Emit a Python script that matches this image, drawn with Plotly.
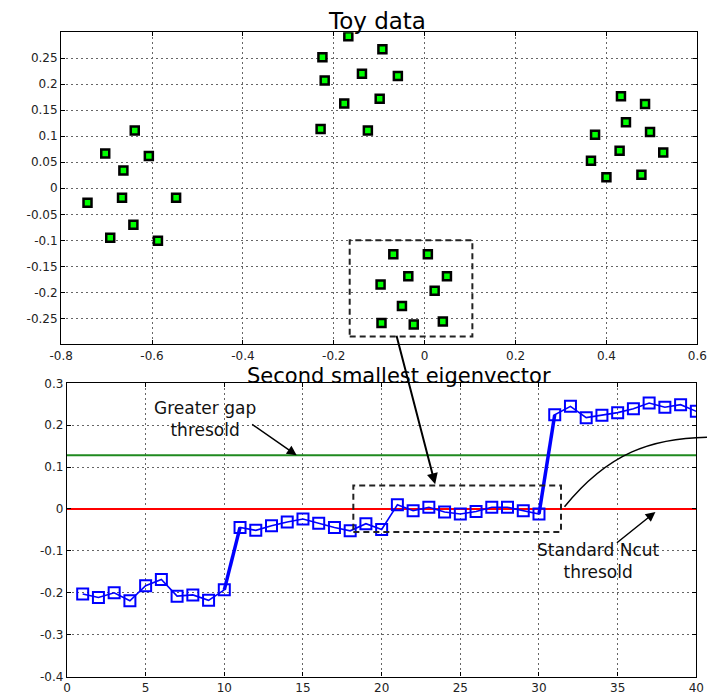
import plotly.graph_objects as go

# ---------------- data ----------------
cluster_left_x = [-0.638, -0.703, -0.663, -0.607, -0.742, -0.666, -0.547, -0.641, -0.692, -0.587]
cluster_left_y = [0.111, 0.067, 0.034, 0.062, -0.028, -0.018, -0.018, -0.070, -0.095, -0.101]
cluster_top_x = [-0.168, -0.225, -0.220, -0.177, -0.229, -0.093, -0.138, -0.059, -0.099, -0.125]
cluster_top_y = [0.292, 0.252, 0.207, 0.163, 0.114, 0.267, 0.220, 0.216, 0.172, 0.111]
cluster_right_x = [0.432, 0.485, 0.443, 0.375, 0.496, 0.429, 0.525, 0.366, 0.400, 0.477]
cluster_right_y = [0.177, 0.162, 0.127, 0.103, 0.108, 0.072, 0.069, 0.053, 0.021, 0.026]
cluster_bottom_x = [-0.069, 0.007, -0.036, 0.049, -0.097, 0.022, -0.050, -0.095, -0.024, 0.040]
cluster_bottom_y = [-0.127, -0.127, -0.169, -0.169, -0.185, -0.197, -0.226, -0.259, -0.262, -0.256]

eig_index = list(range(1, 41))
eig_values = [-0.203, -0.211, -0.200, -0.219, -0.183, -0.168, -0.208, -0.205, -0.218, -0.193,
              -0.044, -0.051, -0.040, -0.031, -0.024, -0.034, -0.044, -0.052, -0.035, -0.049,
              0.010, -0.004, 0.004, -0.007, -0.012, -0.006, 0.004, 0.004, -0.004, -0.012,
              0.225, 0.245, 0.218, 0.224, 0.230, 0.239, 0.253, 0.243, 0.249, 0.233]

greater_gap_threshold = 0.128
ncut_threshold = 0.0

top_x_ticks = [-0.8, -0.6, -0.4, -0.2, 0, 0.2, 0.4, 0.6]
top_x_labels = ["-0.8", "-0.6", "-0.4", "-0.2", "0", "0.2", "0.4", "0.6"]
top_y_ticks = [-0.25, -0.2, -0.15, -0.1, -0.05, 0, 0.05, 0.1, 0.15, 0.2, 0.25]
top_y_labels = ["-0.25", "-0.2", "-0.15", "-0.1", "-0.05", "0", "0.05", "0.1", "0.15", "0.2", "0.25"]
bot_x_ticks = [0, 5, 10, 15, 20, 25, 30, 35, 40]
bot_x_labels = ["0", "5", "10", "15", "20", "25", "30", "35", "40"]
bot_y_ticks = [-0.4, -0.3, -0.2, -0.1, 0, 0.1, 0.2, 0.3]
bot_y_labels = ["-0.4", "-0.3", "-0.2", "-0.1", "0", "0.1", "0.2", "0.3"]

# highlighted boxes (x0, x1, y0, y1)
top_box = (-0.165, 0.105, -0.285, -0.100)
bot_box = (18.2, 31.4, -0.055, 0.056)

W, H = 717, 698
FONT = "DejaVu Sans"

fig = go.Figure()

all_x = cluster_left_x + cluster_top_x + cluster_right_x + cluster_bottom_x
all_y = cluster_left_y + cluster_top_y + cluster_right_y + cluster_bottom_y
fig.add_trace(go.Scatter(
    x=all_x, y=all_y, mode="markers", xaxis="x", yaxis="y",
    marker=dict(symbol="square", size=8, color="#00ff00",
                line=dict(color="black", width=2.5)),
    showlegend=False))

# threshold lines
fig.add_trace(go.Scatter(x=[0, 40], y=[greater_gap_threshold] * 2, mode="lines",
                         xaxis="x2", yaxis="y2", line=dict(color="#1f8a1f", width=2),
                         showlegend=False))
fig.add_trace(go.Scatter(x=[0, 40], y=[ncut_threshold] * 2, mode="lines",
                         xaxis="x2", yaxis="y2", line=dict(color="#ff0000", width=2),
                         showlegend=False))

# eigenvector line
fig.add_trace(go.Scatter(
    x=eig_index, y=eig_values, mode="lines+markers", xaxis="x2", yaxis="y2",
    line=dict(color="#0000ff", width=1.6),
    marker=dict(symbol="square-open", size=11, color="#0000ff",
                line=dict(color="#0000ff", width=2)),
    showlegend=False))
# steep segments look thicker in the reference
for i in range(len(eig_values) - 1):
    if abs(eig_values[i + 1] - eig_values[i]) > 0.1:
        fig.add_trace(go.Scatter(
            x=eig_index[i:i + 2], y=eig_values[i:i + 2], mode="lines",
            xaxis="x2", yaxis="y2", line=dict(color="#0000ff", width=3.5),
            showlegend=False))

axis_common = dict(
    showgrid=True, gridcolor="#666666", griddash="2px,3px", gridwidth=1,
    zeroline=False, showline=True, linecolor="black", linewidth=1.2,
    mirror="ticks", ticks="inside", ticklen=4, tickcolor="black",
    tickfont=dict(family=FONT, size=12, color="#222222"),
)

fig.update_layout(
    width=W, height=H,
    margin=dict(l=0, r=0, t=0, b=0),
    paper_bgcolor="white", plot_bgcolor="white",
    xaxis=dict(domain=[50.7 / W, 707 / W], anchor="y", range=[-0.8, 0.6],
               tickvals=top_x_ticks, ticktext=top_x_labels, **axis_common),
    yaxis=dict(domain=[1 - 344.3 / H, 1 - 25.7 / H], anchor="x", range=[-0.3, 0.3],
               tickvals=top_y_ticks, ticktext=top_y_labels, **axis_common),
    xaxis2=dict(domain=[56.7 / W, 706 / W], anchor="y2", range=[0, 40],
                tickvals=bot_x_ticks, ticktext=bot_x_labels, **axis_common),
    yaxis2=dict(domain=[1 - 683.3 / H, 1 - 384 / H], anchor="x2", range=[-0.4, 0.3],
                tickvals=bot_y_ticks, ticktext=bot_y_labels, **axis_common),
)

# dashed boxes
fig.add_shape(type="rect", xref="x", yref="y", x0=top_box[0], x1=top_box[1],
              y0=top_box[2], y1=top_box[3],
              line=dict(color="#222222", width=2, dash="6px,4px"))
fig.add_shape(type="rect", xref="x2", yref="y2", x0=bot_box[0], x1=bot_box[1],
              y0=bot_box[2], y1=bot_box[3],
              line=dict(color="#222222", width=2, dash="6px,4px"))

def px(xp, yp):
    return xp / W, 1 - yp / H

# curved connector leaving to the right
p0 = px(570, 510); p1 = px(615, 455); p2 = px(660, 440); p3 = px(717, 439)
fig.add_shape(type="path", xref="paper", yref="paper",
              path=f"M {p0[0]},{p0[1]} C {p1[0]},{p1[1]} {p2[0]},{p2[1]} {p3[0]},{p3[1]}",
              line=dict(color="black", width=1.5))

# titles
tx, ty = px(377, 14)
fig.add_annotation(text="Toy data", x=tx, y=ty, xref="paper", yref="paper",
                   showarrow=False, font=dict(family=FONT, size=23, color="black"),
                   xanchor="center", yanchor="middle")
tx, ty = px(399, 377)
fig.add_annotation(text="Second smallest eigenvector", x=tx, y=ty, xref="paper", yref="paper",
                   showarrow=False, font=dict(family=FONT, size=21, color="black"),
                   xanchor="center", yanchor="middle")

# text labels
tx, ty = px(199, 420)
fig.add_annotation(text="Greater gap<br>thresold", x=tx, y=ty, xref="paper", yref="paper",
                   showarrow=False, font=dict(family=FONT, size=17, color="#111111"),
                   xanchor="center", yanchor="middle")
tx, ty = px(605, 565)
fig.add_annotation(text="Standard Ncut<br>thresold", x=tx, y=ty, xref="paper", yref="paper",
                   showarrow=False, font=dict(family=FONT, size=17, color="#111111"),
                   xanchor="center", yanchor="middle")

# arrows
fig.add_annotation(x=14.6, y=greater_gap_threshold, xref="x2", yref="y2", text="",
                   showarrow=True, ax=-46, ay=-32, axref="pixel", ayref="pixel",
                   arrowhead=2, arrowsize=1.3, arrowwidth=1.5, arrowcolor="black")
fig.add_annotation(x=37.4, y=-0.007, xref="x2", yref="y2", text="",
                   showarrow=True, ax=-40, ay=32, axref="pixel", ayref="pixel",
                   arrowhead=2, arrowsize=1.3, arrowwidth=1.5, arrowcolor="black")
fig.add_annotation(x=23.4, y=0.059, xref="x2", yref="y2", text="",
                   showarrow=True, ax=-39, ay=-150, axref="pixel", ayref="pixel",
                   arrowhead=2, arrowsize=1.1, arrowwidth=2, arrowcolor="black")

fig.write_html("out.html")
